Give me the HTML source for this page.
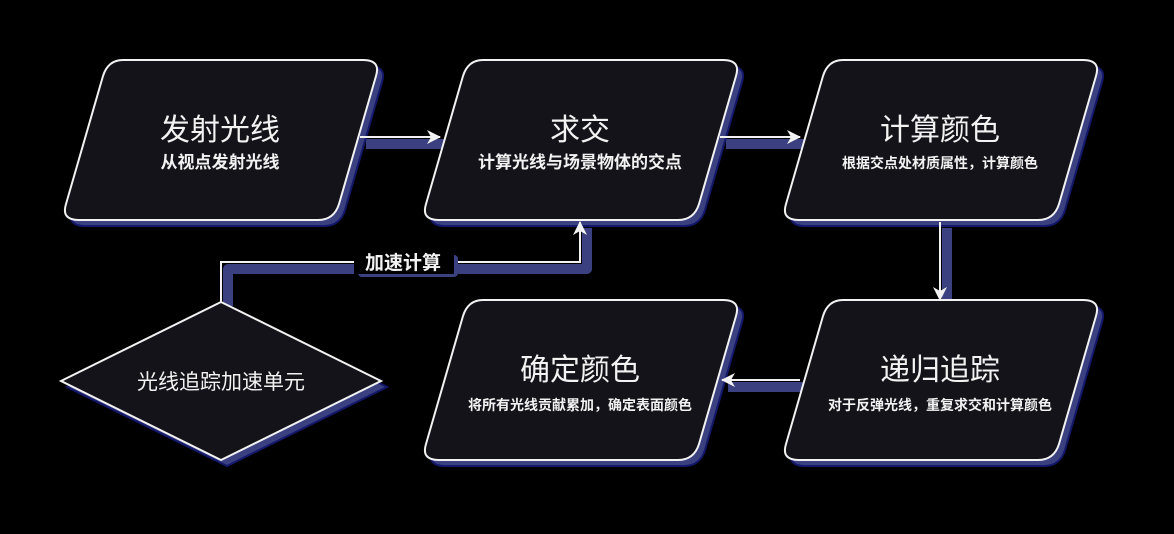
<!DOCTYPE html>
<html><head><meta charset="utf-8"><style>
html,body{margin:0;padding:0;background:#000;width:1174px;height:534px;overflow:hidden}
svg text{font-family:"Liberation Sans","Noto Sans CJK SC",sans-serif;fill:#f2f2f2;text-anchor:middle}
</style></head><body>
<svg width="1174" height="534" viewBox="0 0 1174 534" xmlns="http://www.w3.org/2000/svg">
<defs>
<g id="para"><path d="M60,0 H300 Q318,0 313,16 L276,144 Q271,160 255,160 H16 Q-2,160 3,144 L40,16 Q45,0 60,0 Z"/></g>
<marker id="ah" markerWidth="16" markerHeight="16" refX="13" refY="8" orient="auto" markerUnits="userSpaceOnUse"><path d="M0,1 L14,8 L0,15 L4,8 Z" fill="#f2f2f2"/></marker>
</defs>
<!-- connector shadows -->
<g fill="none" stroke="#3a4080" stroke-width="10" stroke-linejoin="round">
<path d="M366,144 H446"/><path d="M726,144 H806"/><path d="M947,228 V304"/><path d="M806,387 H728"/>
<path d="M228,306 V269 H587 V228"/>
</g>
<!-- node shadows -->
<g fill="#3a4080" stroke="#14186a" stroke-width="2">
<use href="#para" x="69" y="66"/><use href="#para" x="429" y="66"/><use href="#para" x="789" y="66"/>
<use href="#para" x="429" y="306"/><use href="#para" x="789" y="306"/>
<path d="M227,308 L387,387 L227,466 L67,387 Z"/>
</g>
<!-- connectors -->
<g fill="none" stroke="#f2f2f2" stroke-width="2">
<path d="M360,137 H440" marker-end="url(#ah)"/>
<path d="M720,137 H800" marker-end="url(#ah)"/>
<path d="M940,222 V300" marker-end="url(#ah)"/>
<path d="M800,380 H722" marker-end="url(#ah)"/>
<path d="M221,302 V262 H580 V222" marker-end="url(#ah)"/>
</g>
<rect x="358" y="255" width="100" height="22" rx="4" fill="#3a4080"/>
<rect x="354" y="250" width="100" height="24" fill="#000"/>
<text x="403" y="269" font-size="19" font-weight="bold">加速计算</text>
<!-- nodes -->
<g fill="#141319" stroke="#f2f2f2" stroke-width="2">
<use href="#para" x="63" y="60"/><use href="#para" x="423" y="60"/><use href="#para" x="783" y="60"/>
<use href="#para" x="423" y="300"/><use href="#para" x="783" y="300"/>
<path d="M221,302 L381,381 L221,460 L61,381 Z"/>
</g>
<text x="220" y="140" font-size="30">发射光线</text>
<text x="220" y="168" font-size="17" font-weight="bold">从视点发射光线</text>
<text x="580" y="140" font-size="30">求交</text>
<text x="580" y="168" font-size="17" font-weight="bold">计算光线与场景物体的交点</text>
<text x="940" y="140" font-size="30">计算颜色</text>
<text x="940" y="168" font-size="14" font-weight="bold">根据交点处材质属性，计算颜色</text>
<text x="580" y="380" font-size="30">确定颜色</text>
<text x="580" y="410" font-size="14" font-weight="bold">将所有光线贡献累加，确定表面颜色</text>
<text x="940" y="380" font-size="30">递归追踪</text>
<text x="940" y="410" font-size="14" font-weight="bold">对于反弹光线，重复求交和计算颜色</text>
<text x="221" y="389" font-size="21">光线追踪加速单元</text>
</svg>
</body></html>
